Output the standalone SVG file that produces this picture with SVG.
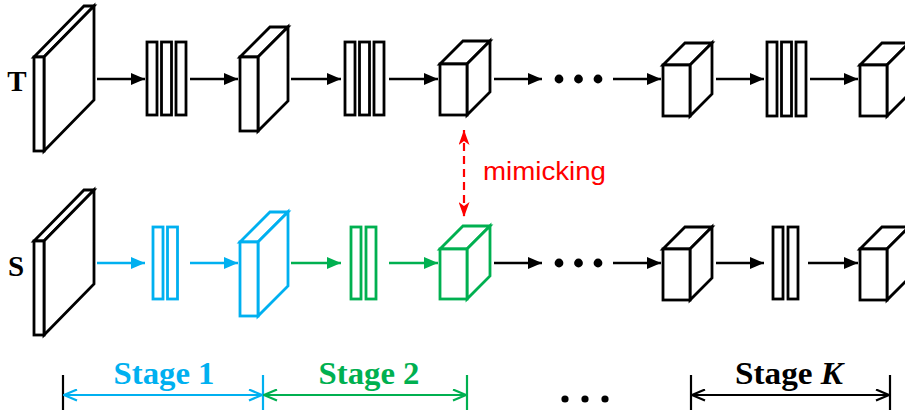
<svg xmlns="http://www.w3.org/2000/svg" width="905" height="412" viewBox="0 0 905 412">
  <style>
    .blk { fill: #fff; stroke: #000; stroke-width: 2.8; stroke-linejoin: miter; }
    .blu { fill: #fff; stroke: #00B0F0; stroke-width: 2.8; }
    .grn { fill: #fff; stroke: #00B050; stroke-width: 2.8; }
    .ar-k { stroke: #000; stroke-width: 2.6; fill: none; marker-end: url(#headK); }
    .ar-b { stroke: #00B0F0; stroke-width: 2.6; fill: none; marker-end: url(#headB); }
    .ar-g { stroke: #00B050; stroke-width: 2.6; fill: none; marker-end: url(#headG); }
    .lbl { font-family: "Liberation Serif", "Times New Roman", serif; font-weight: bold; }
    .tick { stroke-width: 2.2; }
  </style>
  <defs>
    <marker id="headK" markerUnits="userSpaceOnUse" markerWidth="14" markerHeight="12" refX="14" refY="6" orient="auto">
      <path d="M0,0 L14,6 L0,12 z" fill="#000"/>
    </marker>
    <marker id="headB" markerUnits="userSpaceOnUse" markerWidth="14" markerHeight="12" refX="14" refY="6" orient="auto">
      <path d="M0,0 L14,6 L0,12 z" fill="#00B0F0"/>
    </marker>
    <marker id="headG" markerUnits="userSpaceOnUse" markerWidth="14" markerHeight="12" refX="14" refY="6" orient="auto">
      <path d="M0,0 L14,6 L0,12 z" fill="#00B050"/>
    </marker>
    <marker id="headR" markerUnits="userSpaceOnUse" markerWidth="15" markerHeight="11" refX="15" refY="5.5" orient="auto-start-reverse">
      <path d="M0,0 L15,5.5 L0,11 L4,5.5 z" fill="#FF0000"/>
    </marker>
    <marker id="chevK" markerUnits="userSpaceOnUse" markerWidth="15" markerHeight="13" refX="14" refY="6.5" orient="auto-start-reverse">
      <path d="M1,1 L14,6.5 L1,12" fill="none" stroke="#000" stroke-width="2.2"/>
    </marker>
    <marker id="chevB" markerUnits="userSpaceOnUse" markerWidth="15" markerHeight="13" refX="14" refY="6.5" orient="auto-start-reverse">
      <path d="M1,1 L14,6.5 L1,12" fill="none" stroke="#00B0F0" stroke-width="2.2"/>
    </marker>
    <marker id="chevG" markerUnits="userSpaceOnUse" markerWidth="15" markerHeight="13" refX="14" refY="6.5" orient="auto-start-reverse">
      <path d="M1,1 L14,6.5 L1,12" fill="none" stroke="#00B050" stroke-width="2.2"/>
    </marker>
  </defs>

  <!-- row labels -->
  <text class="lbl" x="17" y="91" font-size="29" text-anchor="middle">T</text>
  <text class="lbl" x="16" y="276" font-size="29" text-anchor="middle">S</text>

  <!-- teacher row -->
  <g id="t-input">
    <polygon class="blk" points="34,57 84,6 94,6 44,57"/>
    <polygon class="blk" points="44,57 94,6 94,100 44,151"/>
    <rect class="blk" x="34" y="57" width="10" height="94"/>
  </g>
  <g id="t-layers1">
    <rect class="blk" x="147" y="42" width="10" height="73"/>
    <rect class="blk" x="161.5" y="42" width="10" height="73"/>
    <rect class="blk" x="176" y="42" width="10" height="73"/>
  </g>
  <g id="t-feat1">
    <polygon class="blk" points="240,57 270,27 288,27 258,57"/>
    <polygon class="blk" points="258,57 288,27 288,101 258,131"/>
    <rect class="blk" x="240" y="57" width="18" height="74"/>
  </g>
  <g id="t-layers2">
    <rect class="blk" x="345" y="42" width="10" height="73"/>
    <rect class="blk" x="359.5" y="42" width="10" height="73"/>
    <rect class="blk" x="374" y="42" width="10" height="73"/>
  </g>
  <g id="t-feat2">
    <polygon class="blk" points="440,64 463,41 490,41 467,64"/>
    <polygon class="blk" points="467,64 490,41 490,92 467,115"/>
    <rect class="blk" x="440" y="64" width="27" height="51"/>
  </g>
  <g id="t-dots">
    <circle cx="559" cy="79" r="4.4"/>
    <circle cx="578.5" cy="79" r="4.4"/>
    <circle cx="598" cy="79" r="4.4"/>
  </g>
  <g id="t-feat3">
    <polygon class="blk" points="663,65 685,43 712,43 690,65"/>
    <polygon class="blk" points="690,65 712,43 712,94 690,116"/>
    <rect class="blk" x="663" y="65" width="27" height="51"/>
  </g>
  <g id="t-layersK">
    <rect class="blk" x="767" y="42" width="10" height="74"/>
    <rect class="blk" x="781.5" y="42" width="10" height="74"/>
    <rect class="blk" x="796" y="42" width="10" height="74"/>
  </g>
  <g id="t-featK">
    <polygon class="blk" points="860,65 882,43 909,43 887,65"/>
    <polygon class="blk" points="887,65 909,43 909,94 887,116"/>
    <rect class="blk" x="860" y="65" width="27" height="51"/>
  </g>

  <!-- student row -->
  <g id="s-input">
    <polygon class="blk" points="34,241 84,190 94,190 44,241"/>
    <polygon class="blk" points="44,241 94,190 94,284 44,335"/>
    <rect class="blk" x="34" y="241" width="10" height="94"/>
  </g>
  <g id="s-layers1">
    <rect class="blu" x="153" y="227" width="10" height="72"/>
    <rect class="blu" x="167.5" y="227" width="10" height="72"/>
  </g>
  <g id="s-feat1">
    <polygon class="blu" points="240,242 270,212 288,212 258,242"/>
    <polygon class="blu" points="258,242 288,212 288,286 258,316"/>
    <rect class="blu" x="240" y="242" width="18" height="74"/>
  </g>
  <g id="s-layers2">
    <rect class="grn" x="351" y="227" width="10" height="72"/>
    <rect class="grn" x="366" y="227" width="10" height="72"/>
  </g>
  <g id="s-feat2">
    <polygon class="grn" points="440,249 463,226 490,226 467,249"/>
    <polygon class="grn" points="467,249 490,226 490,276 467,299"/>
    <rect class="grn" x="440" y="249" width="27" height="50"/>
  </g>
  <g id="s-dots">
    <circle cx="559" cy="263" r="4.4"/>
    <circle cx="578.5" cy="263" r="4.4"/>
    <circle cx="598" cy="263" r="4.4"/>
  </g>
  <g id="s-feat3">
    <polygon class="blk" points="663,249 685,227 712,227 690,249"/>
    <polygon class="blk" points="690,249 712,227 712,278 690,300"/>
    <rect class="blk" x="663" y="249" width="27" height="51"/>
  </g>
  <g id="s-layersK">
    <rect class="blk" x="773" y="227" width="10" height="72"/>
    <rect class="blk" x="788" y="227" width="10" height="72"/>
  </g>
  <g id="s-featK">
    <polygon class="blk" points="860,249 882,227 909,227 887,249"/>
    <polygon class="blk" points="887,249 909,227 909,278 887,300"/>
    <rect class="blk" x="860" y="249" width="27" height="51"/>
  </g>

  <!-- connectors -->
  <g id="connectors">
    <line class="ar-k" x1="97" y1="79" x2="145" y2="79"/>
    <line class="ar-k" x1="190" y1="79" x2="238" y2="79"/>
    <line class="ar-k" x1="291" y1="79" x2="341" y2="79"/>
    <line class="ar-k" x1="389" y1="79" x2="438" y2="79"/>
    <line class="ar-k" x1="494" y1="79" x2="542" y2="79"/>
    <line class="ar-k" x1="613" y1="79" x2="661" y2="79"/>
    <line class="ar-k" x1="716" y1="79" x2="764" y2="79"/>
    <line class="ar-k" x1="810" y1="79" x2="858" y2="79"/>

    <line class="ar-b" x1="97" y1="263" x2="145" y2="263"/>
    <line class="ar-b" x1="190" y1="263" x2="238" y2="263"/>
    <line class="ar-g" x1="291" y1="263" x2="341" y2="263"/>
    <line class="ar-g" x1="389" y1="263" x2="438" y2="263"/>
    <line class="ar-k" x1="494" y1="263" x2="542" y2="263"/>
    <line class="ar-k" x1="613" y1="263" x2="661" y2="263"/>
    <line class="ar-k" x1="716" y1="263" x2="764" y2="263"/>
    <line class="ar-k" x1="808" y1="263" x2="858" y2="263"/>

    <line x1="464" y1="130" x2="464" y2="217" stroke="#FF0000" stroke-width="2.2" stroke-dasharray="8 5" marker-start="url(#headR)" marker-end="url(#headR)"/>
  </g>
  <text x="483" y="180" font-family="'Liberation Sans', Arial, sans-serif" font-size="26" fill="#FF0000" textLength="123" lengthAdjust="spacingAndGlyphs">mimicking</text>

  <!-- stage spans -->
  <g id="stage-1">
    <line class="tick" x1="63" y1="375" x2="63" y2="410" stroke="#000"/>
    <line x1="64" y1="395" x2="262" y2="395" stroke="#00B0F0" stroke-width="2.2" marker-start="url(#chevB)" marker-end="url(#chevB)"/>
    <text class="lbl" x="164" y="384" font-size="31" fill="#00B0F0" text-anchor="middle" textLength="101" lengthAdjust="spacingAndGlyphs">Stage 1</text>
  </g>
  <g id="stage-2">
    <line class="tick" x1="263" y1="375" x2="263" y2="410" stroke="#00B0F0"/>
    <line x1="264" y1="395" x2="466" y2="395" stroke="#00B050" stroke-width="2.2" marker-start="url(#chevG)" marker-end="url(#chevG)"/>
    <line class="tick" x1="467" y1="375" x2="467" y2="410" stroke="#00B050"/>
    <text class="lbl" x="369" y="384" font-size="31" fill="#00B050" text-anchor="middle" textLength="101" lengthAdjust="spacingAndGlyphs">Stage 2</text>
  </g>
  <g id="stage-dots">
    <circle cx="565" cy="399" r="3.6"/>
    <circle cx="585" cy="399" r="3.6"/>
    <circle cx="605" cy="399" r="3.6"/>
  </g>
  <g id="stage-K">
    <line class="tick" x1="691" y1="375" x2="691" y2="410" stroke="#000"/>
    <line x1="692" y1="395" x2="889" y2="395" stroke="#000" stroke-width="2.2" marker-start="url(#chevK)" marker-end="url(#chevK)"/>
    <line class="tick" x1="890" y1="375" x2="890" y2="410" stroke="#000"/>
    <text class="lbl" x="789" y="384" font-size="31" fill="#000" text-anchor="middle" textLength="108" lengthAdjust="spacingAndGlyphs">Stage <tspan font-style="italic">K</tspan></text>
  </g>
</svg>
